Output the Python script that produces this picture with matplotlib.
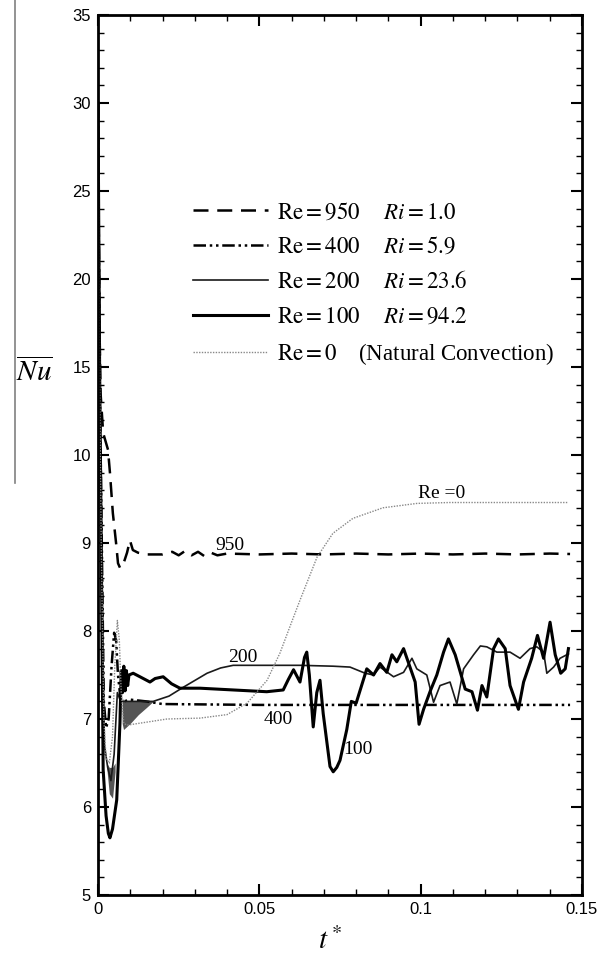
import numpy as np
import matplotlib
matplotlib.use("Agg")
import matplotlib.pyplot as plt
from matplotlib.lines import Line2D
from matplotlib.ticker import FixedLocator, FormatStrFormatter

plt.rcParams["mathtext.fontset"] = "stix"
plt.rcParams["font.family"] = ["Liberation Sans", "DejaVu Sans"]

# Re = 950 (Ri = 1.0)
t_950 = [0, 0.0004, 0.0008, 0.0016, 0.0031, 0.0037, 0.0046, 0.0056, 0.0062, 0.0068,
         0.0074, 0.0082, 0.0090, 0.0099, 0.0108, 0.0124, 0.015, 0.020, 0.023, 0.025,
         0.027, 0.029, 0.031, 0.033, 0.035, 0.037, 0.040, 0.05, 0.06, 0.07, 0.08,
         0.09, 0.10, 0.11, 0.12, 0.13, 0.14, 0.1463]
nu_950 = [30, 18, 13.5, 11.25, 10.3, 9.8, 9.34, 9.0, 8.77, 8.72,
          8.72, 8.8, 8.89, 9.03, 8.92, 8.89, 8.87, 8.87, 8.9, 8.86,
          8.91, 8.86, 8.9, 8.85, 8.89, 8.86, 8.88, 8.87, 8.88, 8.87, 8.88,
          8.87, 8.88, 8.87, 8.88, 8.87, 8.88, 8.875]

# Re = 400 (Ri = 5.9)
t_400 = [0, 0.0005, 0.001, 0.0018, 0.0025, 0.0033, 0.0042, 0.005, 0.0056, 0.0062,
         0.007, 0.008, 0.010, 0.015, 0.02, 0.05, 0.08, 0.11, 0.1463]
nu_400 = [30, 15, 9.5, 7.2, 6.9, 7.0, 7.6, 7.98, 7.9, 7.5,
          7.22, 7.2, 7.22, 7.2, 7.17, 7.16, 7.16, 7.16, 7.16]

# Re = 200 (Ri = 23.6)
t_200 = [0, 0.0005, 0.001, 0.002, 0.003, 0.004, 0.005, 0.006, 0.007, 0.009,
         0.0171, 0.022, 0.0264, 0.0338, 0.038, 0.0419, 0.0626, 0.0729, 0.0781, 0.0828,
         0.0854, 0.0874, 0.0916, 0.0947, 0.0973, 0.0988, 0.1019, 0.1040, 0.1060, 0.1091,
         0.1112, 0.1133, 0.1164, 0.1185, 0.1205, 0.1236, 0.1277, 0.1308, 0.1339, 0.1360,
         0.1381, 0.1391, 0.1412, 0.1432, 0.1458]
nu_200 = [30, 14, 9, 6.7, 6.45, 6.3, 6.6, 7.3, 7.2, 7.2,
          7.2, 7.26, 7.36, 7.52, 7.58, 7.61, 7.61, 7.60, 7.59, 7.52,
          7.50, 7.59, 7.48, 7.53, 7.69, 7.57, 7.50, 7.19, 7.38, 7.42,
          7.17, 7.57, 7.73, 7.83, 7.82, 7.76, 7.76, 7.69, 7.80, 7.82,
          7.76, 7.52, 7.59, 7.69, 7.74]

# Re = 100 (Ri = 94.2)
t_100 = [0, 0.0005, 0.001, 0.0016, 0.0025, 0.0032, 0.0037, 0.0045, 0.0058, 0.0068,
         0.0072, 0.0076, 0.0080, 0.0084, 0.0088, 0.0092, 0.0096, 0.0109, 0.0130, 0.0161,
         0.0177, 0.0202, 0.0228, 0.0254, 0.0316, 0.0419, 0.0523, 0.0574, 0.0590, 0.0606,
         0.0626, 0.0640, 0.0647, 0.0655, 0.0667, 0.0678, 0.0688, 0.0698, 0.0719, 0.0729,
         0.0740, 0.0750, 0.0771, 0.0785, 0.0800, 0.0833, 0.0854, 0.0874, 0.0895, 0.0911,
         0.0926, 0.0947, 0.0965, 0.0983, 0.0995, 0.1009, 0.1030, 0.1050, 0.1071, 0.1086,
         0.1107, 0.1123, 0.1138, 0.1159, 0.1176, 0.1190, 0.1205, 0.1226, 0.1241, 0.1262,
         0.1277, 0.1303, 0.1319, 0.1344, 0.1362, 0.1381, 0.1401, 0.1417, 0.1434, 0.1448,
         0.1458]
nu_100 = [30, 15, 9, 6.42, 5.9, 5.7, 5.65, 5.75, 6.08, 6.95,
          7.55, 7.3, 7.6, 7.32, 7.55, 7.38, 7.5, 7.52, 7.48, 7.42,
          7.46, 7.48, 7.40, 7.35, 7.35, 7.33, 7.31, 7.33, 7.45, 7.56,
          7.42, 7.70, 7.76, 7.50, 6.91, 7.30, 7.44, 7.06, 6.46, 6.40,
          6.45, 6.53, 6.88, 7.2, 7.18, 7.57, 7.50, 7.63, 7.53, 7.73,
          7.65, 7.80, 7.61, 7.42, 6.94, 7.11, 7.32, 7.50, 7.76, 7.91,
          7.73, 7.53, 7.34, 7.31, 7.10, 7.38, 7.25, 7.80, 7.91, 7.80,
          7.38, 7.11, 7.42, 7.69, 7.95, 7.69, 8.10, 7.73, 7.52, 7.57,
          7.80]

# Re = 0 (natural convection)
t_0 = [0, 0.0005, 0.001, 0.0018, 0.0025, 0.0035, 0.0045, 0.0052, 0.006, 0.0066,
       0.0072, 0.0080, 0.009, 0.0214, 0.0316, 0.040, 0.0462, 0.0524, 0.0564, 0.060,
       0.0626, 0.0679, 0.0728, 0.079, 0.0883, 0.0989, 0.109, 0.1457]
nu_0 = [30, 14, 9, 7.0, 6.55, 6.5, 6.8, 7.6, 8.12, 7.9,
        7.3, 6.95, 6.93, 7.0, 7.01, 7.05, 7.18, 7.44, 7.75, 8.1,
        8.35, 8.84, 9.11, 9.28, 9.40, 9.45, 9.46, 9.46]

# grey shaded oscillation bands
t_band1 = [0.0027, 0.0035, 0.0045, 0.0053]
lo_band1 = [6.45, 6.15, 6.1, 6.4]
hi_band1 = [6.5, 6.45, 6.45, 6.5]
t_band2 = [0.0075, 0.0079, 0.010, 0.0125, 0.015, 0.0171]
lo_band2 = [6.95, 6.88, 6.95, 7.05, 7.13, 7.2]
hi_band2 = [7.25, 7.2, 7.2, 7.2, 7.2, 7.2]


def forward(y):
    y = np.asarray(y, dtype=float)
    return np.where(y <= 10, y - 5, 5 + (y - 10) / 5)


def inverse(v):
    v = np.asarray(v, dtype=float)
    return np.where(v <= 5, v + 5, 10 + (v - 5) * 5)


W, H = 606, 958
fig = plt.figure(figsize=(W / 100, H / 100), dpi=100)
ax = fig.add_axes([98 / W, 1 - 895 / H, 484 / W, 880 / H])

ax.fill_between(t_band1, lo_band1, hi_band1, color="#555555", lw=0)
ax.fill_between(t_band2, lo_band2, hi_band2, color="#555555", lw=0)

ax.plot(t_950, nu_950, color="black", lw=1.8, ls=(0, (6, 3.5)),
        label=r"$\mathrm{Re}=950\quad\enspace Ri=1.0$")
ax.plot(t_400, nu_400, color="black", lw=1.8, ls=(0, (5, 1.5, 1, 1.5, 1, 1.5)),
        label=r"$\mathrm{Re}=400\quad\enspace Ri=5.9$")
ax.plot(t_200, nu_200, color="#1a1a1a", lw=1.2,
        label=r"$\mathrm{Re}=200\quad\enspace Ri=23.6$")
ax.plot(t_100, nu_100, color="black", lw=2.2,
        label=r"$\mathrm{Re}=100\quad\enspace Ri=94.2$")
ax.plot(t_0, nu_0, color="#888888", lw=1.0, ls=(0, (1, 1)),
        label=r"$\mathrm{Re}=0\quad$ (Natural Convection)")

ax.set_yscale("function", functions=(forward, inverse))
ax.set_xlim(0, 0.15)
ax.set_ylim(5, 35)

ax.yaxis.set_major_locator(FixedLocator([5, 6, 7, 8, 9, 10, 15, 20, 25, 30, 35]))
ax.yaxis.set_minor_locator(FixedLocator(list(np.arange(5, 10, 0.2)) + list(range(10, 36))))
ax.yaxis.set_major_formatter(FormatStrFormatter("%g"))
ax.yaxis.set_minor_formatter(plt.NullFormatter())
ax.xaxis.set_major_locator(FixedLocator([0, 0.05, 0.1, 0.15]))
ax.xaxis.set_minor_locator(FixedLocator(np.arange(0, 0.151, 0.01)))
ax.xaxis.set_major_formatter(FormatStrFormatter("%g"))

ax.tick_params(which="both", direction="in", top=True, right=True, labelsize=12, pad=5)
ax.tick_params(which="major", length=8, width=1.5)
ax.tick_params(which="minor", length=4.5, width=1)
for sp in ax.spines.values():
    sp.set_linewidth(2)

# inline curve labels
lab = dict(family=["Liberation Serif", "DejaVu Serif"], fontsize=14, ha="center", va="center")
ax.text(0.041, 8.97, "950", **lab)
ax.text(0.1066, 9.56, "Re =0", **lab)
ax.text(0.045, 7.7, "200", **lab)
ax.text(0.0558, 7.0, "400", **lab)
ax.text(0.0804, 6.65, "100", **lab)

leg = ax.legend(loc="upper left", bbox_to_anchor=(0.196, 0.788), frameon=False,
                borderaxespad=0, borderpad=0, handlelength=3.3, handletextpad=0.35,
                labelspacing=0.58,
                prop={"family": ["Liberation Serif", "DejaVu Serif"], "size": 16.5})

ax.text(-0.132, 0.594, r"$\overline{Nu}$", transform=ax.transAxes, fontsize=21,
        ha="center", va="center")
ax.text(0.479, -0.052, r"$t^*$", transform=ax.transAxes, fontsize=21,
        ha="center", va="center")

# stray grey rule at the left edge of the scanned figure
fig.add_artist(Line2D([15 / W, 15 / W], [1, 1 - 483 / H], color="#808080", lw=1.2))

fig.savefig("out.png", dpi=100)
